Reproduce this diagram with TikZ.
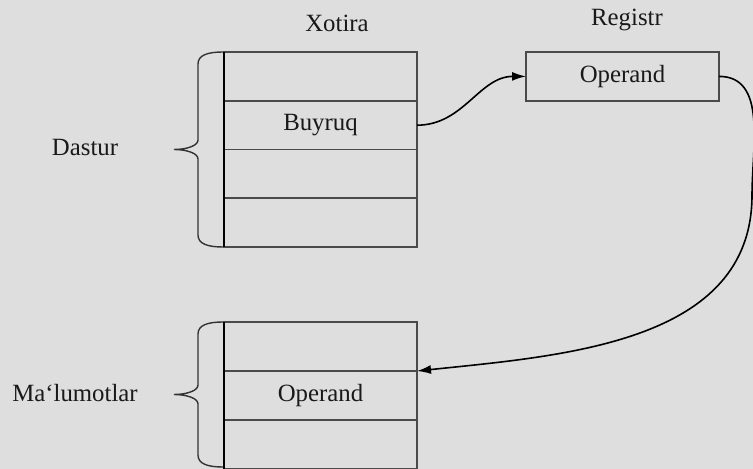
\documentclass[tikz,border=0pt]{standalone}
\usepackage{fontspec}
\setmainfont{Liberation Serif}
\usetikzlibrary{positioning,arrows.meta}
\definecolor{fond}{HTML}{DEDEDE}
\definecolor{trait}{HTML}{4A4A4A}
\tikzset{
  cell/.style={draw=trait,line width=0.9pt,minimum width=96.5pt,minimum height=24.4pt,
    inner sep=0pt,outer sep=0pt},
  fleche/.style={line width=0.8pt,-{Latex[length=7pt,width=4.5pt]}},
  qavs/.style={line width=0.7pt,draw=black!80},
}
% brace: #1 top, #2 bottom
\newcommand\qavs[2]{%
  \pgfmathsetmacro\qmid{(#1+#2)/2}
  \draw[qavs] (223,#1) .. controls (208,#1) and (198,#1+3) .. (198,#1+12)
    -- (198,\qmid-9.5) .. controls (198,\qmid-3.5) and (186,\qmid) .. (174,\qmid)
    .. controls (186,\qmid) and (198,\qmid+3.5) .. (198,\qmid+9.5)
    -- (198,#2-12) .. controls (198,#2-3) and (208,#2) .. (223,#2);
}

\begin{document}
\begin{tikzpicture}[x=0.5pt,y=-0.5pt,every node/.style={font=\fontsize{12.4}{14}\selectfont,text=black!90}]
  \useasboundingbox[fill=fond] (0,0) rectangle (753,469);
  % Xotira
  \node[cell] (m1) at (320.5,76.4) {};
  \foreach \p/\q/\txt in {m1/m2/Buyruq,m2/m3/{},m3/m4/{}}{%
    \node[cell,below=0pt of \p] (\q) {\txt};
  }
  \node[cell,below=37.5pt of m4] (d1) {};
  \foreach \p/\q/\txt in {d1/d2/Operand,d2/d3/{}}{%
    \node[cell,below=0pt of \p] (\q) {\txt};
  }
  \draw[line width=1.4pt] (m1.north west) -- (m4.south west);
  \draw[line width=1.4pt] (d1.north west) -- (d3.south west);
  % Registr
  \node[cell,right=54.5pt of m1] (reg) {Operand};
  \node (xotira) at (337,23) {Xotira};
  \node (registr) at (627,20) {Registr};
  % qavslar
  \qavs{52}{247}
  \qavs{322}{467}
  \node (dastur) at (85,148) {Dastur};
  \node (malumot) at (75,393) {Ma‘lumotlar};
  % strelkalar
  \coordinate (bend) at (752,195);
  \draw[fleche] (m2.east) to[out=0,in=180] (reg.west);
  \draw[fleche] (reg.east) to[out=0,in=90] (bend) to[out=-90,in=6] (d1.south east);
\end{tikzpicture}
\end{document}
